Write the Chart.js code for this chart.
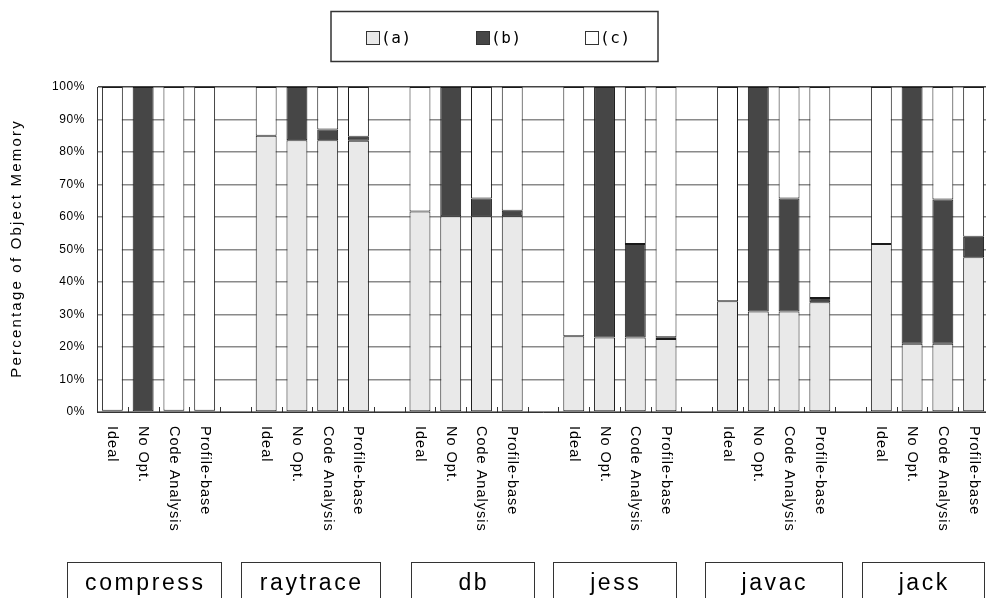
<!DOCTYPE html>
<html><head><meta charset="utf-8">
<script src="https://cdn.jsdelivr.net/npm/chart.js@4.4.0/dist/chart.umd.min.js"></script>
<style>
html,body{margin:0;padding:0;background:#fff;overflow:hidden;width:986px;height:598px}
#wrap{position:relative;width:990px;height:598px}
</style></head><body>
<div id="wrap"><canvas id="c"></canvas></div>
<script>
// ---- data ----
const benchmarks = ['compress','raytrace','db','jess','javac','jack'];
const configs = ['Ideal','No Opt.','Code Analysis','Profile-base'];
const seriesNames = ['(a)','(b)','(c)'];
const seriesColors = ['#e9e9e9','#464646','#ffffff'];
const yTicks = [0,10,20,30,40,50,60,70,80,90,100];
const yTitle = 'Percentage of Object Memory';
// per benchmark, values for [Ideal, No Opt., Code Analysis, Profile-base]
const valuesA = [
  [0.4, 0, 0.4, 0.4],
  [85.0, 83.6, 83.6, 83.5],
  [61.7, 60.2, 60.2, 60.2],
  [23.3, 22.9, 22.9, 22.5],
  [34.1, 30.9, 30.9, 33.8],
  [51.7, 21.0, 21.0, 47.6]
];
const valuesB = [
  [0, 100, 0, 0],
  [0, 16.4, 3.3, 1.2],
  [0, 39.8, 5.5, 1.7],
  [0, 77.1, 28.8, 0.5],
  [0, 69.1, 34.8, 1.3],
  [0, 79.0, 44.4, 6.3]
];
const valuesC = [
  [99.6, 0, 99.6, 99.6],
  [15.0, 0, 13.1, 15.3],
  [38.3, 0, 34.3, 38.1],
  [76.7, 0, 48.3, 77.0],
  [65.9, 0, 34.3, 64.9],
  [48.3, 0, 34.6, 46.1]
];

// ---- build category table (one empty slot between benchmarks) ----
const labels = [], dA = [], dB = [], dC = [];
benchmarks.forEach((b, g) => {
  if (g > 0) { labels.push(''); dA.push(null); dB.push(null); dC.push(null); }
  configs.forEach((c, k) => {
    labels.push(c);
    dA.push(valuesA[g][k] || null);
    dB.push(valuesB[g][k] || null);
    dC.push(valuesC[g][k] || null);
  });
});

const SANS = '"Liberation Sans", Arial, sans-serif';
function spacing(ctx, px) { if ('letterSpacing' in ctx) ctx.letterSpacing = px + 'px'; }

// layout of the benchmark name boxes under the chart (pixel rectangles)
const groupBoxes = [[67,221],[241,380],[411,534],[553,676],[705,842],[862,984]];

const decor = {
  id: 'decor',
  beforeLayout(chart) { spacing(chart.ctx, 0.6); },
  beforeDraw(chart) { spacing(chart.ctx, 0.6); },
  afterDraw(chart) {
    const ctx = chart.ctx, xs = chart.scales.x, ys = chart.scales.y, area = chart.chartArea;
    ctx.save();
    // y-axis title (rotated, reading bottom to top)
    ctx.fillStyle = '#000';
    ctx.font = '15px ' + SANS;
    spacing(ctx, 2.2);
    ctx.textAlign = 'center'; ctx.textBaseline = 'middle';
    ctx.save();
    ctx.translate(17, (ys.getPixelForValue(0) + ys.getPixelForValue(100)) / 2);
    ctx.rotate(-Math.PI / 2);
    ctx.fillText(yTitle, 1.1, 0);
    ctx.restore();
    // small tick marks at category boundaries, pointing up from the axis
    ctx.strokeStyle = '#333'; ctx.lineWidth = 1;
    for (let i = 0; i < labels.length - 1; i++) {
      const bx = Math.round((xs.getPixelForValue(i) + xs.getPixelForValue(i + 1)) / 2) + 0.5;
      ctx.beginPath(); ctx.moveTo(bx, area.bottom); ctx.lineTo(bx, area.bottom - 5); ctx.stroke();
    }
    // rotated category labels (reading top to bottom)
    ctx.fillStyle = '#000';
    ctx.font = '14.5px ' + SANS;
    spacing(ctx, 1.0);
    ctx.textAlign = 'left'; ctx.textBaseline = 'middle';
    labels.forEach((lab, i) => {
      if (!lab) return;
      const px = xs.getPixelForValue(i);
      ctx.save();
      ctx.translate(px, area.bottom + 14);
      ctx.rotate(Math.PI / 2);
      ctx.fillText(lab, 0, 0);
      ctx.restore();
    });
    // legend in a box
    spacing(ctx, 0.6);
    const cx = chart.width / 2 - 0.5;
    ctx.strokeStyle = '#333'; ctx.lineWidth = 1.5;
    ctx.strokeRect(cx - 163.5, 11.5, 327, 50);
    ctx.font = '16px "DejaVu Sans Mono", monospace';
    chart.data.datasets.forEach((ds, i) => {
      const bx = Math.round(cx - 128.5 + i * 109.5);
      ctx.fillStyle = ds.backgroundColor;
      ctx.fillRect(bx, 31, 14, 14);
      ctx.lineWidth = 1; ctx.strokeStyle = '#333';
      ctx.strokeRect(bx + 0.5, 31.5, 13, 13);
      ctx.fillStyle = '#000';
      ctx.textAlign = 'left'; ctx.textBaseline = 'middle';
      ctx.fillText(ds.label, bx + 15, 38.5);
    });
    // benchmark name boxes
    ctx.font = '23px ' + SANS;
    spacing(ctx, 2.6);
    ctx.textAlign = 'center'; ctx.textBaseline = 'alphabetic';
    benchmarks.forEach((name, g) => {
      const [l, r] = groupBoxes[g];
      ctx.strokeStyle = '#333'; ctx.lineWidth = 1;
      ctx.strokeRect(l + 0.5, 562.5, r - l, 60);
      ctx.fillStyle = '#000';
      ctx.fillText(name, (l + r) / 2 + 1.3, 590);
    });
    ctx.restore();
  }
};

const mk = (i, data) => ({
  label: seriesNames[i], data,
  backgroundColor: seriesColors[i],
  borderColor: '#1a1a1a', borderWidth: 1, borderSkipped: false,
  barPercentage: 0.68, categoryPercentage: 1.0
});

new Chart(document.getElementById('c'), {
  type: 'bar',
  data: { labels, datasets: [mk(0, dA), mk(1, dB), mk(2, dC)] },
  options: {
    responsive: true, maintainAspectRatio: false, animation: false,
    layout: { padding: { left: 9, right: 1, top: 87, bottom: 186 } },
    plugins: { legend: { display: false }, tooltip: { enabled: false } },
    scales: {
      x: {
        stacked: true, offset: true,
        grid: { display: false, drawTicks: false },
        border: { display: true, color: '#333', width: 1 },
        ticks: { display: false },
        afterFit(s) { s.height = 0; }
      },
      y: {
        stacked: true, min: 0, max: 100,
        afterBuildTicks(s) { s.ticks = yTicks.map(v => ({ value: v })); },
        afterFit(s) { s.width = 88; },
        grid: { color: ctx => ctx.tick && ctx.tick.value === 100 ? '#444' : '#8a8a8a', lineWidth: 1.5, drawTicks: false },
        border: { display: true, color: '#333', width: 1 },
        ticks: { color: '#000', padding: 12, font: { family: SANS, size: 12 }, callback: v => v + '%' },
        title: { display: false, text: yTitle }
      }
    }
  },
  plugins: [decor]
});
</script>
</body></html>
